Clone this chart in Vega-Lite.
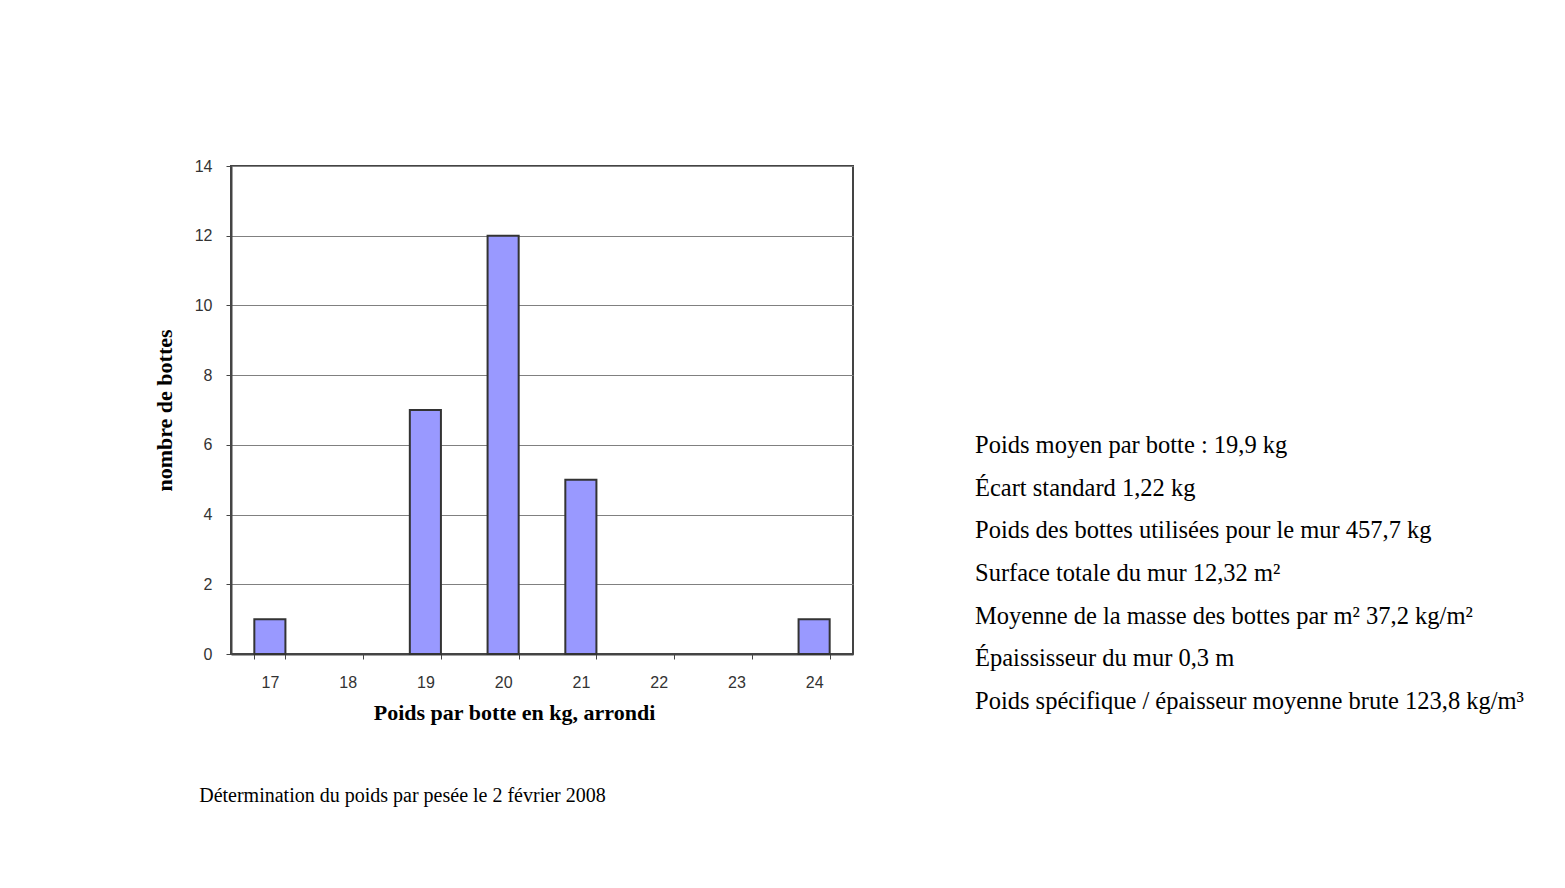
{
  "$schema": "https://vega.github.io/schema/vega-lite/v6.json",
  "description": "Répartition du poids des bottes de paille, pesée du 2 février 2008.",
  "background": "white",
  "padding": {"left": 152, "top": 157, "right": 5, "bottom": 5},
  "bounds": "flush",
  "spacing": 121,
  "datasets": {
    "pesee": [
      {"poids": 17, "bottes": 1},
      {"poids": 19, "bottes": 7},
      {"poids": 20, "bottes": 12},
      {"poids": 21, "bottes": 5},
      {"poids": 24, "bottes": 1}
    ],
    "resume": [
      {"ligne": 1, "texte": "Poids moyen par botte : 19,9 kg"},
      {"ligne": 2, "texte": "Écart standard 1,22 kg"},
      {"ligne": 3, "texte": "Poids des bottes utilisées pour le mur 457,7 kg"},
      {"ligne": 4, "texte": "Surface totale du mur 12,32 m²"},
      {"ligne": 5, "texte": "Moyenne de la masse des bottes par m² 37,2 kg/m²"},
      {"ligne": 6, "texte": "Épaississeur du mur 0,3 m"},
      {"ligne": 7, "texte": "Poids spécifique / épaisseur moyenne brute 123,8 kg/m³"}
    ]
  },
  "hconcat": [
    {
      "width": 622,
      "height": 488,
      "data": {"name": "pesee"},
      "view": {"stroke": "#444", "strokeWidth": 2},
      "title": {
        "text": "Détermination du poids par pesée le 2 février 2008",
        "orient": "bottom",
        "anchor": "start",
        "dx": 46,
        "offset": 63,
        "font": "Liberation Serif",
        "fontSize": 20,
        "fontWeight": "normal",
        "color": "#000"
      },
      "mark": {"type": "bar", "color": "#9999ff", "stroke": "#333", "strokeWidth": 2},
      "encoding": {
        "x": {
          "field": "poids",
          "type": "ordinal",
          "scale": {"domain": [17, 18, 19, 20, 21, 22, 23, 24], "paddingInner": 0.6, "paddingOuter": 0.3},
          "axis": {
            "title": "Poids par botte en kg, arrondi",
            "titleFont": "Liberation Serif",
            "titleFontSize": 22,
            "titleFontWeight": "bold",
            "titleColor": "#000",
            "titlePadding": 12,
            "titleX": 283,
            "titleAlign": "center",
            "labelAngle": 0,
            "labelFont": "Liberation Sans",
            "labelFontSize": 16,
            "labelColor": "#333",
            "labelPadding": 15,
            "tickBand": "extent",
            "tickSize": 5,
            "tickColor": "#444",
            "domainColor": "#444",
            "domainWidth": 2,
            "grid": false
          }
        },
        "y": {
          "field": "bottes",
          "type": "quantitative",
          "scale": {"domain": [0, 14]},
          "axis": {
            "title": "nombre de bottes",
            "titleFont": "Liberation Serif",
            "titleFontSize": 22,
            "titleFontWeight": "bold",
            "titleColor": "#000",
            "titlePadding": 18,
            "values": [0, 2, 4, 6, 8, 10, 12, 14],
            "labelFont": "Liberation Sans",
            "labelFontSize": 16,
            "labelColor": "#333",
            "labelPadding": 14,
            "tickSize": 5,
            "tickColor": "#444",
            "domainColor": "#444",
            "domainWidth": 2,
            "grid": true,
            "gridColor": "#808080",
            "gridWidth": 1
          }
        }
      }
    },
    {
      "width": 2,
      "height": 560,
      "data": {"name": "resume"},
      "mark": {"type": "text", "align": "left", "baseline": "middle", "font": "Liberation Serif", "fontSize": 24.5, "color": "#000"},
      "encoding": {
        "y": {
          "field": "ligne",
          "type": "ordinal",
          "scale": {"range": [280, 536], "padding": 0},
          "axis": null
        },
        "text": {"field": "texte"}
      }
    }
  ],
  "config": {
    "view": {"stroke": null}
  }
}
